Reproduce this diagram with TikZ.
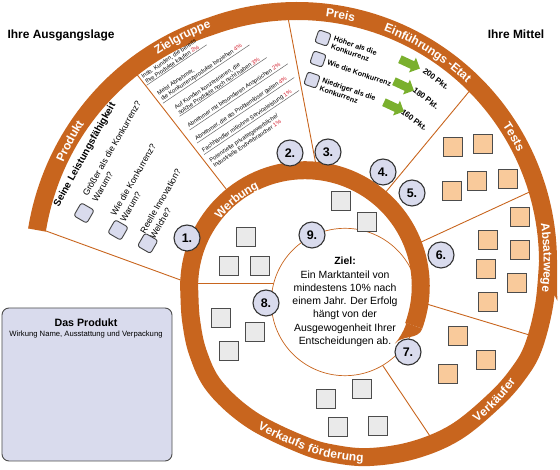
\documentclass[tikz,border=0pt]{standalone}
\usepackage{fontspec}
\setmainfont{Liberation Sans}
\usetikzlibrary{decorations.text,shapes.arrows}
\definecolor{bandorange}{RGB}{200,101,30}
\definecolor{boxgrey}{RGB}{234,234,234}
\definecolor{peach}{RGB}{249,202,155}
\definecolor{lavender}{RGB}{217,219,237}
\definecolor{arrowgreen}{RGB}{122,176,46}
\definecolor{pctred}{RGB}{210,30,45}
\newcommand\ringfont{\bfseries\fontsize{12}{14}\selectfont}
\newcommand\pct[1]{\textcolor{pctred}{#1}}

\begin{document}
\begin{tikzpicture}[x=1bp,y=1bp,
    band/.style={draw=bandorange,line width=18bp},
    sector/.style={draw=bandorange,line width=0.9bp},
    greybox/.style={draw=black!70,fill=boxgrey,line width=1.1bp,minimum size=19bp,inner sep=0pt},
    peachbox/.style={draw=black!70,fill=peach,line width=1.1bp,minimum size=19.5bp,inner sep=0pt},
    tick/.style={draw=black!75,fill=lavender,rounded corners=2.5bp,line width=0.9bp,minimum size=13bp,inner sep=0pt},
    num/.style={draw=black!80,fill=lavender,circle,line width=1.1bp,minimum size=26bp,inner sep=0pt,font=\bfseries\fontsize{12.5}{14}\selectfont},
    ringlabel/.style={decorate,decoration={text along path,text align=center,text color=white,raise=-4.3bp,text={|\ringfont|#1}}},
    entry/.style={rotate=34,anchor=west,align=left,inner sep=0.8bp,font=\fontsize{5.8}{6.6}\selectfont},
    rule/.style={draw=black!60,line width=0.5bp,shorten >=-6bp},
    question/.style={rotate=60,anchor=west,align=left,inner sep=1bp,font=\fontsize{8.8}{11}\selectfont},
    pricetext/.style={rotate=-19,anchor=west,align=left,inner sep=1bp,font=\bfseries\fontsize{7.2}{8.6}\selectfont},
    pkt/.style={rotate=-37,font=\bfseries\fontsize{8}{9}\selectfont},
    greenarrow/.style={single arrow,fill=arrowgreen,minimum height=22bp,minimum width=16bp,single arrow head extend=4bp,inner sep=4bp,rotate=-25}]
  \useasboundingbox (0,0) rectangle (560,470);
  \coordinate (c1) at (297,208);
  \coordinate (c2) at (305,184);
  \coordinate (c3) at (369,191);

  % sector lines
  \coordinate (s1a) at (46,239);
  \coordinate (s1b) at (186,188);
  \coordinate (s2a) at (135,398);
  \coordinate (s2b) at (230,276);
  \coordinate (s3a) at (287.5,455);
  \coordinate (s3b) at (316,305);
  \coordinate (s4a) at (472,382);
  \coordinate (s4b) at (385,277);
  \coordinate (s5a) at (536,281);
  \coordinate (s5b) at (419,227);
  \coordinate (s6a) at (420,168);
  \coordinate (s6b) at (536,133);
  \coordinate (s7a) at (377,113);
  \coordinate (s7b) at (430.6,33);
  \coordinate (s8a) at (194,187);
  \coordinate (s8b) at (290,187);
  \draw[sector] (s1a) -- (s1b);
  \draw[sector] (s2a) -- (s2b);
  \draw[sector] (s3a) -- (s3b);
  \draw[sector] (s4a) -- (s4b);
  \draw[sector] (s5a) -- (s5b);
  \draw[sector] (s6a) -- (s6b);
  \draw[sector] (s7a) -- (s7b);
  \draw[sector] (s8a) -- (s8b);

  \node[circle,draw=bandorange,fill=white,line width=0.7bp,minimum size=130bp,align=center,
        font=\fontsize{10.5}{13.3}\selectfont] (ziel) at (345,168)
        {\textbf{Ziel:}\\Ein Marktanteil von\\mindestens 10\% nach\\einem Jahr. Der Erfolg\\hängt von der\\Ausgewogenheit Ihrer\\Entscheidungen ab.};

  % the spiral
  \draw[band] plot[domain=173:110,samples=40] ({297+(251+11*(\x-110)/63)*cos(\x)},{208+(251+11*(\x-110)/63)*sin(\x)})
    arc[start angle=110,end angle=0,radius=251]
    -- plot[smooth,tension=0.6] coordinates {(548,208) (544,164) (533,122) (518,96) (495,70) (456,38) (414,20) (370,13) (335,16) (303,25) (252,50) (215,83) (198,117) (191,150) (189.4,176.5)}
    arc[start angle=183.7,end angle=-20,radius=115.8];
  \coordinate (tapin) at (405.4,147.5);
  \coordinate (tapout) at (422.3,141.3);
  \coordinate (tapend) at (394.8,126.2);
  \fill[bandorange] (tapin) -- (tapout) to[out=-110,in=50] (tapend) arc[start angle=-40,end angle=-20,radius=65] -- cycle;

  \path[ringlabel=Produkt] (c1) ++(172:258) arc[start angle=172,end angle=132,radius=258];
  \path[ringlabel=Zielgruppe] (c1) ++(140:254) arc[start angle=140,end angle=94,radius=254];
  \path[ringlabel=Preis] (c1) ++(95:251) arc[start angle=95,end angle=65,radius=251];
  \path[ringlabel=Einführungs -Etat] (c1) ++(85:251) arc[start angle=85,end angle=31,radius=251];
  \path[ringlabel=Tests] (c1) ++(45:251) arc[start angle=45,end angle=15,radius=251];
  \path[ringlabel=Absatzwege] (c1) ++(20:251) arc[start angle=20,end angle=-18,radius=251];
  \path[ringlabel=Werbung] (c2) ++(150:112) arc[start angle=150,end angle=107,radius=112];
  \path[ringlabel=Verkäufer] (c3) ++(-62:175) arc[start angle=-62,end angle=-26,radius=175];
  \path[ringlabel=Verkaufs förderung] plot[smooth,tension=0.6] coordinates {(198,117) (215,83) (252,50) (303,25) (335,16) (370,13) (414,20) (456,38)};

  \node[font=\bfseries\fontsize{12}{14}\selectfont] (lage) at (61,435) {Ihre Ausgangslage};
  \node[font=\bfseries\fontsize{12}{14}\selectfont] (mittel) at (516,435.7) {Ihre Mittel};

  % Produkt
  \node[rotate=61,font=\bfseries\fontsize{10}{12}\selectfont] (leistung) at (85,315) {Seine Leistungsfähigkeit};
  \node[question] (q1) at (89,271) {Größer als die Konkurrenz?\\Warum?};
  \node[question] (q2) at (117,251) {Wie die Konkurrenz?\\Warum?};
  \node[question] (q3) at (146.5,233.5) {Reelle Innovation?\\Welche?};
  \node[tick,minimum size=15bp,rotate=60] (qc1) at (84,257) {};
  \node[tick,minimum size=15bp,rotate=60] (qc2) at (118,240) {};
  \node[tick,minimum size=15bp,rotate=60] (qc3) at (147.7,226.7) {};

  % Zielgruppe
  \node[entry] (e1) at (143,390) {Insb. Kunden, die bereits\\Ihre Produkte kaufen \pct{2\%}};
  \node[entry] (e2) at (159,372.5) {Meist Abnehmer,\\die Konkurrenzprodukte beziehen \pct{4\%}};
  \node[entry] (e3) at (176,359) {Auf Kunden konzentrieren, die\\solche Produkte noch nicht haben \pct{3\%}};
  \node[entry] (e4) at (187.5,343) {Abnehmer mit besonderen Ansprüchen \pct{2\%}};
  \node[entry] (e5) at (195,330) {Abnehmer, die als Problemlöser gelten \pct{4\%}};
  \node[entry] (e6) at (202,318.5) {Fachhändler mit/ohne Serviceleistung \pct{1\%}};
  \node[entry] (e7) at (211,306) {Potenzielle private/gewerbliche/\\Industrielle Endverbraucher \pct{1\%}};
  \draw[rule] (e1.south west) -- (e1.south east);
  \draw[rule] (e2.south west) -- (e2.south east);
  \draw[rule] (e3.south west) -- (e3.south east);
  \draw[rule] (e4.south west) -- (e4.south east);
  \draw[rule] (e5.south west) -- (e5.south east);
  \draw[rule] (e6.south west) -- (e6.south east);

  % Preis und Etat
  \node[tick,rotate=-19] (pc1) at (323,432) {};
  \node[tick,rotate=-19] (pc2) at (318,411) {};
  \node[tick,rotate=-19] (pc3) at (312,390) {};
  \node[pricetext] (pt1) at (331.6,428.1) {Höher als die\\Konkurrenz};
  \node[pricetext] (pt2) at (326.6,408) {Wie die Konkurrenz};
  \node[pricetext] (pt3) at (320.3,386.2) {Niedriger als die\\Konkurrenz};
  \node[greenarrow] (pa1) at (408,407) {};
  \node[greenarrow] (pa2) at (402,385) {};
  \node[greenarrow] (pa3) at (392,364) {};
  \node[pkt] (pk1) at (436,391) {200 Pkt.};
  \node[pkt] (pk2) at (426,371.7) {180 Pkt.};
  \node[pkt] (pk3) at (414.3,350) {160 Pkt.};

  % Tests, Absatzwege, Verkaeufer
  \node[peachbox] (tb1) at (453,323) {};
  \node[peachbox] (tb2) at (483,326) {};
  \node[peachbox] (tb3) at (452,279) {};
  \node[peachbox] (tb4) at (477,289) {};
  \node[peachbox] (tb5) at (508,291) {};
  \node[peachbox] (ab1) at (520,253) {};
  \node[peachbox] (ab2) at (488,230) {};
  \node[peachbox] (ab3) at (520,220) {};
  \node[peachbox] (ab4) at (486,201) {};
  \node[peachbox] (ab5) at (517,187) {};
  \node[peachbox] (ab6) at (488,168) {};
  \node[peachbox] (vk1) at (458,134) {};
  \node[peachbox] (vk2) at (486,110) {};
  \node[peachbox] (vk3) at (448,96) {};

  % Werbung, Verkaufsfoerderung
  \node[greybox] (wb1) at (341,269) {};
  \node[greybox] (wb2) at (367,248) {};
  \node[greybox] (wb3) at (246,233) {};
  \node[greybox] (wb4) at (229,204) {};
  \node[greybox] (wb5) at (260,204) {};
  \node[greybox] (vf1) at (221,152) {};
  \node[greybox] (vf2) at (255,138) {};
  \node[greybox] (vf3) at (229,119) {};
  \node[greybox] (vf4) at (326,71) {};
  \node[greybox] (vf5) at (362,81) {};
  \node[greybox] (vf6) at (338,43) {};
  \node[greybox] (vf7) at (378,44) {};

  \node[draw=black!70,fill=lavender,rounded corners=7bp,line width=0.9bp,minimum width=170bp,minimum height=153bp] (produktbox) at (87,85.5) {};
  \node[font=\bfseries\fontsize{10.7}{12}\selectfont] (boxtitle) at (86,147) {Das Produkt};
  \node[font=\fontsize{7.7}{9}\selectfont] (boxsub) at (86,135.5) {Wirkung Name, Ausstattung und Verpackung};

  \node[num] (n1) at (187,232) {1.};
  \node[num] (n2) at (290,317) {2.};
  \node[num] (n3) at (328,318) {3.};
  \node[num] (n4) at (383,298) {4.};
  \node[num] (n5) at (412,277) {5.};
  \node[num] (n6) at (441,215) {6.};
  \node[num] (n7) at (408,118) {7.};
  \node[num] (n8) at (266,167) {8.};
  \node[num] (n9) at (312,235) {9.};
\end{tikzpicture}
\end{document}
